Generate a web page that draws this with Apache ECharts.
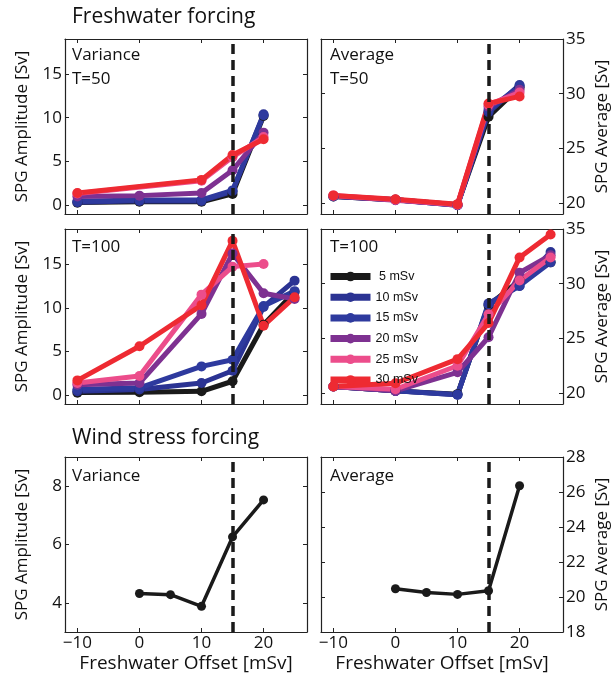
<!DOCTYPE html>
<html>
<head>
<meta charset="utf-8">
<script src="https://cdn.jsdelivr.net/npm/echarts@6/dist/echarts.min.js"></script>
<style>
  html, body { margin: 0; padding: 0; background: #fff; }
  #main { width: 614px; height: 677px; }
</style>
</head>
<body>
<div id="main"></div>
<script>
// forcing amplitudes (legend)
var forcings = ['5 mSv', '10 mSv', '15 mSv', '20 mSv', '25 mSv', '30 mSv'];
var colors = ['#1a1a1a', '#2b3393', '#2e3a9e', '#7e3191', '#ec4d8b', '#ee2a32'];

// freshwater offsets [mSv]
var xT50 = [-10, 0, 10, 15, 20];
var xT100 = [-10, 0, 10, 15, 20, 25];
var xWind = [0, 5, 10, 15, 20];

// T=50, variance (one row per forcing)
var varT50 = [
  [0.3, 0.4, 0.4, 1.3, 10.2],
  [0.35, 0.5, 0.5, 1.6, 10.4],
  [0.45, 0.6, 0.6, 1.7, 10.3],
  [1.0, 1.1, 1.4, 4.0, 8.3],
  [1.35, null, 2.8, 5.5, 7.8],
  [1.4, null, 2.9, 5.75, 7.55]
];
// T=50, average
var avgT50 = [
  [20.6, 20.3, 19.85, 27.9, 30.6],
  [20.6, 20.3, 19.8, 28.3, 30.8],
  [20.65, 20.3, 19.8, 28.5, 30.7],
  [20.65, 20.25, 19.85, 28.8, 30.35],
  [20.7, 20.3, 19.85, 29.0, 30.1],
  [20.7, 20.35, 19.9, 29.1, 29.75]
];
// T=100, variance
var varT100 = [
  [0.3, 0.35, 0.45, 1.6, 8.05, 11.8],
  [0.45, 0.65, 1.4, 2.8, 10.1, 13.1],
  [0.65, 0.85, 3.3, 4.05, 10.2, 11.9],
  [1.2, 1.4, 9.3, 16.2, 11.65, 11.0],
  [1.4, 2.2, 11.5, 14.7, 15.0, null],
  [1.7, 5.6, 10.3, 17.65, 7.95, 11.2]
];
// T=100, average
var avgT100 = [
  [20.6, 20.2, 19.9, 28.0, 30.3, 31.95],
  [20.6, 20.2, 19.85, 28.2, 29.8, 32.9],
  [20.6, 20.2, 19.85, 28.1, 29.8, 31.95],
  [20.6, 20.2, 21.9, 25.1, 31.0, 32.6],
  [20.6, 20.35, 22.5, 27.2, 30.3, 32.4],
  [20.6, 20.9, 23.1, 26.4, 32.4, 34.5]
];
// wind stress forcing
var windVar = [4.32, 4.28, 3.88, 6.26, 7.53];
var windAvg = [20.47, 20.26, 20.15, 20.36, 26.36];

// tick labels
var xTicks = [-10, 0, 10, 20];
var ampTicks = [0, 5, 10, 15];
var avgTicks = [20, 25, 30, 35];
var windAmpTicks = [4, 6, 8];
var windAvgTicks = [18, 20, 22, 24, 26, 28];
var threshold = 15;

var FONT = 'Open Sans';
var myChart = echarts.init(document.getElementById('main'));

// panel layout: [left, top, yMin, yMax, yTicks, rightSide, bottomRow]
var panels = [
  [65, 39, -1, 19, ampTicks, false, false],
  [321, 39, 19, 35, avgTicks, true, false],
  [65, 229, -1, 19, ampTicks, false, false],
  [321, 229, 19, 35, avgTicks, true, false],
  [65, 457, 3, 9, windAmpTicks, false, true],
  [321, 457, 18, 28, windAvgTicks, true, true]
];

var grid = [], xAxis = [], yAxis = [], series = [];
var axisLine = { show: true, onZero: false, lineStyle: { color: '#222', width: 1.2 } };

panels.forEach(function (p, i) {
  grid.push({ left: p[0], top: p[1], width: 242, height: 175 });
  // bottom + top x axes
  xAxis.push({
    type: 'value', gridIndex: i, min: -12, max: 27, position: 'bottom',
    axisLine: axisLine,
    axisTick: { show: true, inside: true, length: 4, customValues: xTicks, lineStyle: { color: '#222' } },
    axisLabel: {
      show: p[6], customValues: xTicks, margin: 3, color: '#111', fontFamily: FONT, fontSize: 17,
      formatter: function (v) { return String(v).replace('-', '\u2212'); }
    },
    splitLine: { show: false },
    name: p[6] ? 'Freshwater Offset [mSv]' : '', nameLocation: 'middle', nameGap: 22,
    nameTextStyle: { color: '#111', fontFamily: FONT, fontSize: 19 }
  });
  xAxis.push({
    type: 'value', gridIndex: i, min: -12, max: 27, position: 'top',
    axisLine: axisLine,
    axisTick: { show: true, inside: true, length: 4, customValues: xTicks, lineStyle: { color: '#222' } },
    axisLabel: { show: false }, splitLine: { show: false }
  });
  // labelled y axis + mirror
  yAxis.push({
    type: 'value', gridIndex: i, min: p[2], max: p[3], position: p[5] ? 'right' : 'left',
    axisLine: axisLine,
    axisTick: { show: true, inside: true, length: 4, customValues: p[4], lineStyle: { color: '#222' } },
    axisLabel: { show: true, customValues: p[4], margin: 3, color: '#111', fontFamily: FONT, fontSize: 17 },
    splitLine: { show: false },
    name: p[5] ? 'SPG Average [Sv]' : 'SPG Amplitude [Sv]',
    nameLocation: 'middle', nameRotate: 90, nameGap: p[5] ? 31 : 34,
    nameTextStyle: { color: '#111', fontFamily: FONT, fontSize: 17 }
  });
  yAxis.push({
    type: 'value', gridIndex: i, min: p[2], max: p[3], position: p[5] ? 'left' : 'right',
    axisLine: axisLine,
    axisTick: { show: true, inside: true, length: 4, customValues: p[4], lineStyle: { color: '#222' } },
    axisLabel: { show: false }, splitLine: { show: false }
  });
});

function zip(xs, ys) {
  var out = [];
  for (var k = 0; k < xs.length; k++) {
    if (ys[k] !== null && ys[k] !== undefined) out.push([xs[k], ys[k]]);
  }
  return out;
}

function dashed() {
  return {
    silent: true, symbol: 'none', label: { show: false },
    lineStyle: { color: '#1a1a1a', type: [10, 6], width: 3.5 },
    data: [{ xAxis: threshold }]
  };
}

function addGroup(panel, xs, rows) {
  rows.forEach(function (ys, s) {
    var item = {
      name: forcings[s], type: 'line', xAxisIndex: panel * 2, yAxisIndex: panel * 2,
      data: zip(xs, ys), symbol: 'circle', symbolSize: 10, showSymbol: true,
      color: colors[s], lineStyle: { width: 5, color: colors[s] },
      itemStyle: { color: colors[s] }, animation: false
    };
    if (s === 0) item.markLine = dashed();
    series.push(item);
  });
}

addGroup(0, xT50, varT50);
addGroup(1, xT50, avgT50);
addGroup(2, xT100, varT100);
addGroup(3, xT100, avgT100);

[[4, windVar], [5, windAvg]].forEach(function (w) {
  series.push({
    name: 'wind', type: 'line', xAxisIndex: w[0] * 2, yAxisIndex: w[0] * 2,
    data: zip(xWind, w[1]), symbol: 'circle', symbolSize: 9,
    color: '#1a1a1a', lineStyle: { width: 3.5, color: '#1a1a1a' },
    itemStyle: { color: '#1a1a1a' }, markLine: dashed(), animation: false
  });
});

function txt(x, y, s, size) {
  return { type: 'text', left: x, top: y, style: { text: s, fill: '#111', font: size + 'px "' + FONT + '"' } };
}

var option = {
  backgroundColor: '#fff',
  animation: false,
  grid: grid,
  xAxis: xAxis,
  yAxis: yAxis,
  legend: {
    data: forcings, orient: 'vertical', left: 322, top: 265,
    itemWidth: 40, itemHeight: 12, itemGap: 7.7,
    lineStyle: { width: 7 },
    textStyle: { fontFamily: 'Liberation Sans', fontSize: 12.5, color: '#111', lineHeight: 12 },
    formatter: function (n) { return n.length === 5 ? ' ' + n : n; },
    selectedMode: false
  },
  graphic: [
    txt(72, 7, 'Freshwater forcing', 21),
    txt(72, 47, 'Variance', 17),
    txt(72, 71, 'T=50', 17),
    txt(330, 47, 'Average', 17),
    txt(330, 71, 'T=50', 17),
    txt(72, 239, 'T=100', 17),
    txt(330, 239, 'T=100', 17),
    txt(72, 428, 'Wind stress forcing', 21),
    txt(72, 468, 'Variance', 17),
    txt(330, 468, 'Average', 17)
  ],
  series: series
};

myChart.setOption(option);
window.addEventListener('resize', function () {
  myChart.resize();
});
</script>
</body>
</html>
